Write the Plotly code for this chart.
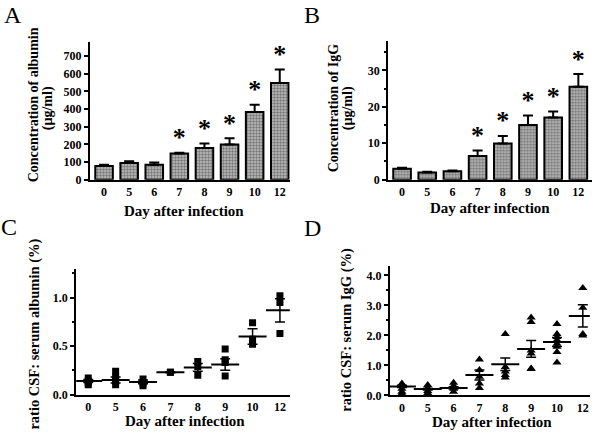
import plotly.graph_objects as go

days = ["0", "5", "6", "7", "8", "9", "10", "12"]

# panel A: albumin in CSF (ug/ml)
alb_mean = [78, 95, 85, 148, 180, 200, 383, 548]
alb_err = [7, 10, 12, 5, 25, 35, 42, 77]
alb_sig = [False, False, False, True, True, True, True, True]

# panel B: IgG in CSF (ug/ml)
igg_mean = [3.0, 2.0, 2.3, 6.5, 9.9, 15.0, 17.1, 25.5]
igg_err = [0.3, 0.15, 0.25, 1.5, 2.1, 2.6, 1.6, 3.5]
igg_sig = [False, False, False, True, True, True, True, True]

# panel C: ratio CSF/serum albumin (%), individual animals
alb_ratio_pts = [
    [0.17, 0.14, 0.12, 0.10],
    [0.24, 0.18, 0.14, 0.10],
    [0.16, 0.12, 0.09],
    [0.23, 0.23],
    [0.34, 0.29, 0.20],
    [0.47, 0.36, 0.33, 0.19],
    [0.74, 0.57, 0.52],
    [1.02, 0.95, 0.63],
]
alb_ratio_mean = [0.14, 0.15, 0.13, 0.23, 0.28, 0.31, 0.60, 0.87]
alb_ratio_sem = [0.015, 0.03, 0.02, 0.005, 0.04, 0.06, 0.08, 0.12]

# panel D: ratio CSF/serum IgG (%), individual animals
igg_ratio_pts = [
    [0.40, 0.32, 0.22, 0.12, 0.06],
    [0.35, 0.25, 0.15, 0.08],
    [0.42, 0.32, 0.22, 0.12],
    [1.20, 0.85, 0.62, 0.40, 0.25],
    [2.05, 0.95, 0.80, 0.68, 0.60],
    [2.60, 2.45, 1.50, 1.40, 0.90, 0.88],
    [2.38, 2.05, 1.95, 1.85, 1.72, 1.62, 1.45, 1.10],
    [3.58, 2.92, 2.05, 2.00],
]
igg_ratio_mean = [0.30, 0.21, 0.25, 0.68, 1.04, 1.55, 1.78, 2.65]
igg_ratio_sem = [0.04, 0.03, 0.04, 0.17, 0.21, 0.28, 0.15, 0.37]

FONT = "Liberation Serif"
pos = list(range(len(days)))

fig = go.Figure()


def bar_panel(mean, err, sig, xa, ya):
    fig.add_trace(go.Bar(
        x=pos, y=mean, width=0.7, xaxis=xa, yaxis=ya,
        marker=dict(color="#a8a8a8", line=dict(color="black", width=2),
                    pattern=dict(shape=".", size=3, solidity=0.55,
                                 fgcolor="#2a2a2a", bgcolor="#c4c4c4")),
        error_y=dict(type="data", array=err, arrayminus=[0] * len(err),
                     symmetric=False, color="black", thickness=2, width=5),
    ))
    sx = [p for p, s in zip(pos, sig) if s]
    sy = [m + e for m, e, s in zip(mean, err, sig) if s]
    fig.add_trace(go.Scatter(
        x=sx, y=sy, mode="text", text=["*"] * len(sx), xaxis=xa, yaxis=ya,
        textposition="top center",
        textfont=dict(family=FONT, size=26, color="black", weight="bold"),
    ))


def dot_panel(pts, mean, sem, symbol, size, xa, ya):
    xs, ys = [], []
    for p, vals in zip(pos, pts):
        xs += [p] * len(vals)
        ys += vals
    fig.add_trace(go.Scatter(
        x=xs, y=ys, mode="markers", xaxis=xa, yaxis=ya,
        marker=dict(symbol=symbol, size=size, color="black"),
    ))
    fig.add_trace(go.Scatter(
        x=pos, y=mean, mode="markers", xaxis=xa, yaxis=ya,
        marker=dict(symbol="line-ew", size=20, line=dict(color="black", width=2)),
        error_y=dict(type="data", array=sem, color="black", thickness=1.5, width=5),
    ))


bar_panel(alb_mean, alb_err, alb_sig, "x", "y")
bar_panel(igg_mean, igg_err, igg_sig, "x2", "y2")
dot_panel(alb_ratio_pts, alb_ratio_mean, alb_ratio_sem, "square", 7, "x3", "y3")
dot_panel(igg_ratio_pts, igg_ratio_mean, igg_ratio_sem, "triangle-up", 8, "x4", "y4")

tickfont = dict(family=FONT, size=12, color="black", weight="bold")


def xax(dom, rng, anchor):
    return dict(domain=dom, range=rng, anchor=anchor, tickvals=pos, ticktext=days,
                showline=True, linecolor="black", linewidth=2, ticks="",
                showgrid=False, zeroline=False, tickfont=tickfont)


def yax(dom, rng, anchor, dtick, fmt="", minor=None):
    d = dict(domain=dom, range=rng, anchor=anchor, dtick=dtick, tick0=0,
             showline=True, linecolor="black", linewidth=2, ticks="outside",
             ticklen=4, tickwidth=1.5, tickcolor="black", showgrid=False,
             zeroline=False, tickfont=tickfont, tickformat=fmt)
    if minor:
        d["minor"] = dict(dtick=minor, tick0=0, ticks="outside", ticklen=2,
                          tickcolor="black", showgrid=False)
    return d


fig.update_layout(
    width=600, height=441, showlegend=False, barmode="overlay",
    margin=dict(l=0, r=0, t=0, b=0),
    paper_bgcolor="white", plot_bgcolor="white",
    font=dict(family=FONT, color="black"),
    xaxis=xax([0.15, 0.483], [-0.56, 7.4], "y"),
    yaxis=yax([0.586, 0.903], [0, 780], "x", 100),
    xaxis2=xax([0.647, 0.987], [-0.55, 7.55], "y2"),
    yaxis2=yax([0.586, 0.905], [0, 38], "x2", 10, minor=5),
    xaxis3=xax([0.127, 0.483], [-0.44, 7.36], "y3"),
    yaxis3=yax([0.091, 0.381], [0, 1.3], "x3", 0.5, ".1f", minor=0.25),
    xaxis4=xax([0.65, 0.983], [-0.46, 7.27], "y4"),
    yaxis4=yax([0.089, 0.388], [0, 4.33], "x4", 1, ".1f", minor=0.5),
)

H = 441.0


def ann(text, x, y, size, bold=True, angle=0):
    fig.add_annotation(
        text=f"<b>{text}</b>" if bold else text,
        x=x / 600.0, y=1 - y / H, xref="paper", yref="paper",
        showarrow=False, textangle=angle, xanchor="center", yanchor="middle",
        font=dict(family=FONT, size=size, color="black"),
    )


# panel letters
ann("A", 13, 15, 24, bold=False)
ann("B", 312, 15, 24, bold=False)
ann("C", 9, 231, 24, bold=False)
ann("D", 312, 232, 24, bold=False)

# axis titles
ann("Concentration of albumin", 33, 107, 14, angle=-90)
ann("(µg/ml)", 48, 110, 14, angle=-90)
ann("Concentration of IgG", 333, 110, 14, angle=-90)
ann("(µg/ml)", 348, 110, 14, angle=-90)
ann("ratio CSF: serum albumin (%)", 35, 340, 14.5, angle=-90)
ann("ratio CSF: serum IgG (%)", 347, 335, 14.5, angle=-90)
ann("Day after infection", 184, 214, 15)
ann("Day after infection", 490, 211, 15)
ann("Day after infection", 185, 428, 15)
ann("Day after infection", 492, 429, 15)

# make the page exactly the size of the figure (no margins, no scrolling)
page_css = (
    "document.documentElement.style.cssText='margin:0;padding:0;overflow:hidden;height:441px';"
    "document.body.style.cssText='margin:0;padding:0;overflow:hidden;height:441px';"
)
fig.write_html("out.html", post_script=page_css, config={"displayModeBar": False})
